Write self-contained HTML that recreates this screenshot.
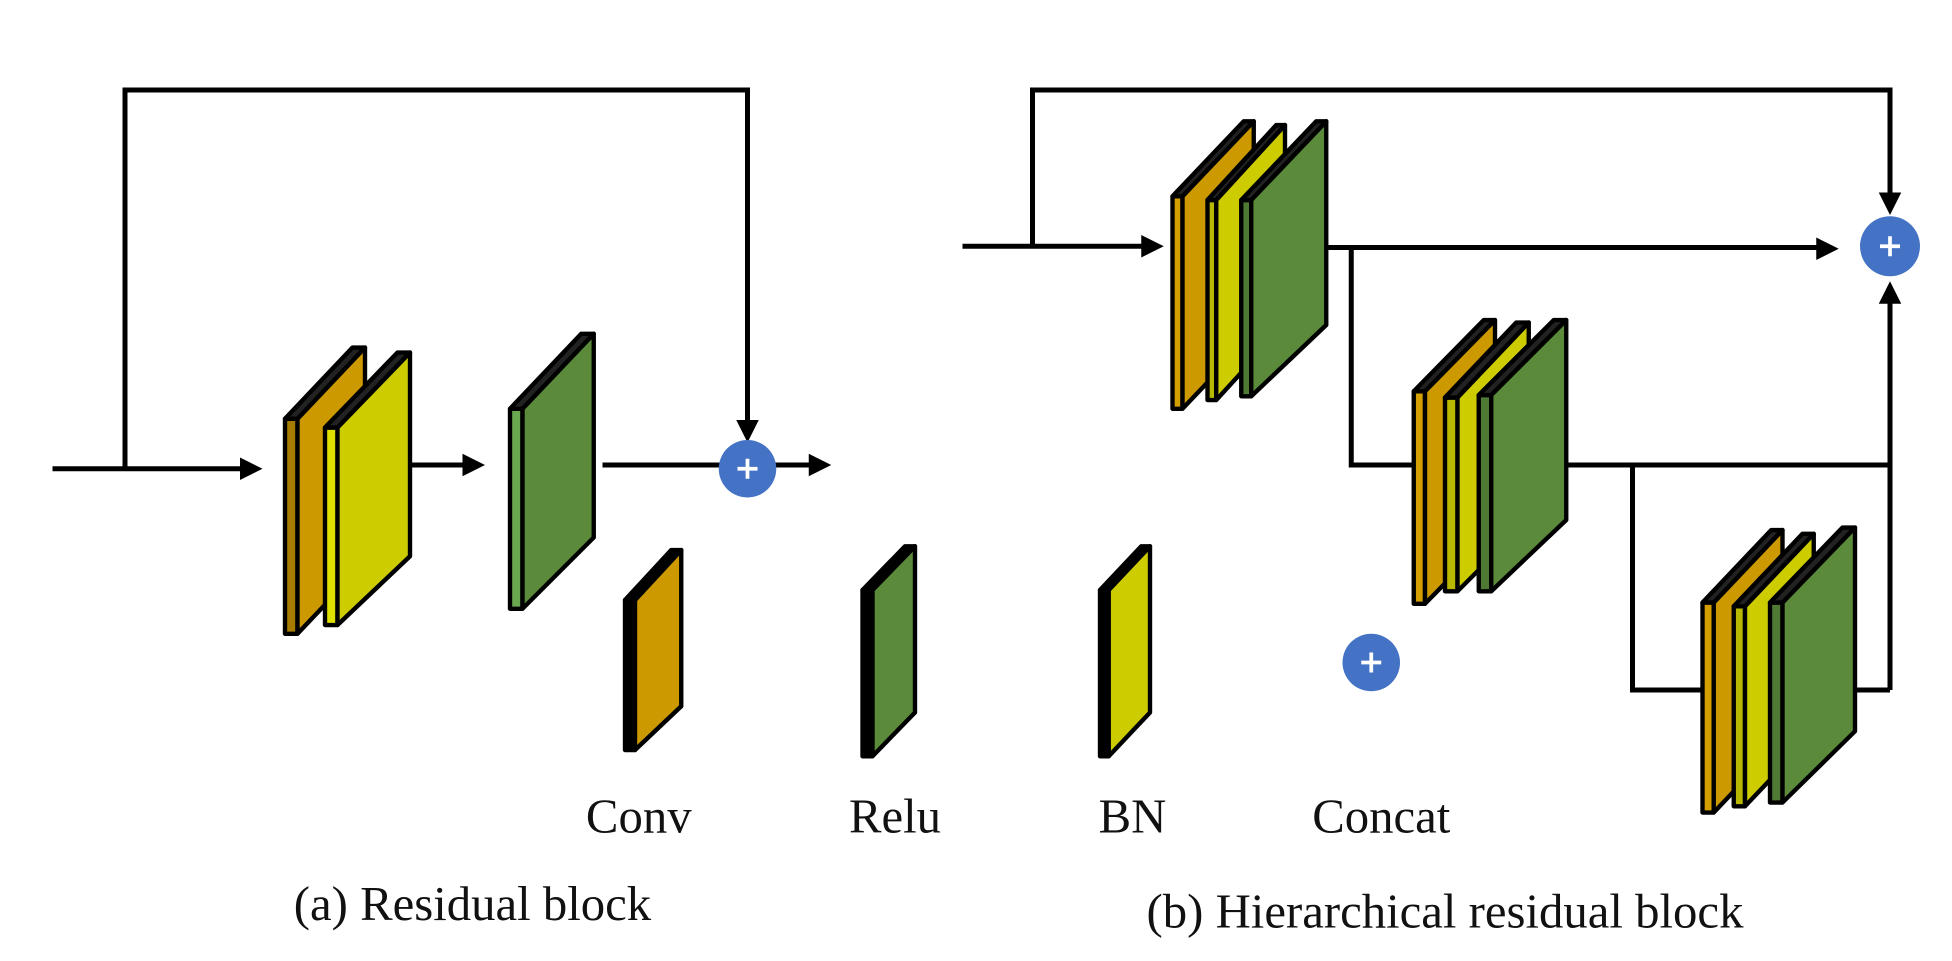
<!DOCTYPE html>
<html><head><meta charset="utf-8"><style>
html,body{margin:0;padding:0;background:#fff;}
svg{display:block}
text{font-family:"Liberation Serif",serif;fill:#111}
</style></head><body>
<svg width="1952" height="961" viewBox="0 0 1561.6 768.8" preserveAspectRatio="none">
<g fill="none" stroke="#000" stroke-width="4">
<path d="M42,375 H196"/>
<path d="M100,375 V72 H598 V338"/>
<path d="M328,372 H374"/>
<path d="M482,372 H580"/>
<path d="M616,372 H650"/>
<path d="M770,197 H917"/>
<path d="M826,197 V72 H1512 V156"/>
<path d="M1061,198 H1457"/>
<path d="M1081,198 V372 H1131"/>
<path d="M1253,372 H1512"/>
<path d="M1512,552 V242"/>
<path d="M1306,372 V552 H1362"/>
<path d="M1484,552 H1512"/>
</g>
<g fill="#000">
<polygon points="210,375 192,366 192,384"/>
<polygon points="598,354 589,336 607,336"/>
<polygon points="388,372 370,363 370,381"/>
<polygon points="665,372 647,363 647,381"/>
<polygon points="931,197 913,188 913,206"/>
<polygon points="1512,172 1503,154 1521,154"/>
<polygon points="1471,199 1453,190 1453,208"/>
<polygon points="1512,225 1503,243 1521,243"/>
</g>
<g stroke="#000" stroke-width="3.5" stroke-linejoin="round">
<polygon points="228,335 238,335 238,507 228,507" fill="#a67c00"/>
<polygon points="238,335 292,278 292,450 238,507" fill="#cc9900"/>
<polygon points="228,335 282,278 292,278 238,335" fill="#222"/>
<polygon points="260,342 270,342 270,500 260,500" fill="#e0e000"/>
<polygon points="270,342 328,282 328,445 270,500" fill="#cccc00"/>
<polygon points="260,342 318,282 328,282 270,342" fill="#222"/>
<polygon points="408,327 418,327 418,487 408,487" fill="#6aa84f"/>
<polygon points="418,327 475,267 475,430 418,487" fill="#5a8a3a"/>
<polygon points="408,327 465,267 475,267 418,327" fill="#222"/>
<polygon points="500,480 508,480 508,600 500,600" fill="#000"/>
<polygon points="508,480 545,440 545,565 508,600" fill="#cc9900"/>
<polygon points="500,480 537,440 545,440 508,480" fill="#000"/>
<polygon points="690,472 698,472 698,605 690,605" fill="#000"/>
<polygon points="698,472 732,437 732,570 698,605" fill="#5a8a3a"/>
<polygon points="690,472 724,437 732,437 698,472" fill="#000"/>
<polygon points="880,472 887,472 887,605 880,605" fill="#000"/>
<polygon points="887,472 920,437 920,570 887,605" fill="#cccc00"/>
<polygon points="880,472 913,437 920,437 887,472" fill="#000"/>
<polygon points="938,157 946,157 946,327 938,327" fill="#d4a000"/>
<polygon points="946,157 1003,97 1003,267 946,327" fill="#cc9900"/>
<polygon points="938,157 995,97 1003,97 946,157" fill="#222"/>
<polygon points="966,160 973,160 973,320 966,320" fill="#b8b800"/>
<polygon points="973,160 1028,100 1028,260 973,320" fill="#cccc00"/>
<polygon points="966,160 1021,100 1028,100 973,160" fill="#222"/>
<polygon points="993,160 1001,160 1001,317 993,317" fill="#4f7a33"/>
<polygon points="1001,160 1061,97 1061,260 1001,317" fill="#5a8a3a"/>
<polygon points="993,160 1053,97 1061,97 1001,160" fill="#222"/>
<polygon points="1131,313 1140,313 1140,483 1131,483" fill="#d4a000"/>
<polygon points="1140,313 1196,256 1196,426 1140,483" fill="#cc9900"/>
<polygon points="1131,313 1187,256 1196,256 1140,313" fill="#222"/>
<polygon points="1156,318 1166,318 1166,473 1156,473" fill="#b8b800"/>
<polygon points="1166,318 1223,258 1223,416 1166,473" fill="#cccc00"/>
<polygon points="1156,318 1213,258 1223,258 1166,318" fill="#222"/>
<polygon points="1183,316 1193,316 1193,473 1183,473" fill="#4f7a33"/>
<polygon points="1193,316 1253,256 1253,416 1193,473" fill="#5a8a3a"/>
<polygon points="1183,316 1243,256 1253,256 1193,316" fill="#222"/>
<polygon points="1362,482 1371,482 1371,650 1362,650" fill="#d4a000"/>
<polygon points="1371,482 1426,424 1426,592 1371,650" fill="#cc9900"/>
<polygon points="1362,482 1417,424 1426,424 1371,482" fill="#222"/>
<polygon points="1387,485 1396,485 1396,645 1387,645" fill="#b8b800"/>
<polygon points="1396,485 1451,427 1451,587 1396,645" fill="#cccc00"/>
<polygon points="1387,485 1442,427 1451,427 1396,485" fill="#222"/>
<polygon points="1416,482 1426,482 1426,642 1416,642" fill="#4f7a33"/>
<polygon points="1426,482 1484,422 1484,585 1426,642" fill="#5a8a3a"/>
<polygon points="1416,482 1474,422 1484,422 1426,482" fill="#222"/>
</g>
<g>
<circle cx="598" cy="375" r="23" fill="#4472c4"/>
<circle cx="1512" cy="197" r="24" fill="#4472c4"/>
<circle cx="1097" cy="530" r="23" fill="#4472c4"/>
</g>
<g stroke="#fff" stroke-width="3">
<path d="M590,375 H606 M598,367 V383"/>
<path d="M1504,197 H1520 M1512,189 V205"/>
<path d="M1089,530 H1105 M1097,522 V538"/>
</g>
<g font-size="39" text-anchor="middle">
<text x="511" y="666">Conv</text>
<text x="716" y="666">Relu</text>
<text x="906" y="666">BN</text>
<text x="1105" y="666">Concat</text>
<text x="378" y="736">(a) Residual block</text>
<text x="1156" y="742">(b) Hierarchical residual block</text>
</g>
</svg>
</body></html>
